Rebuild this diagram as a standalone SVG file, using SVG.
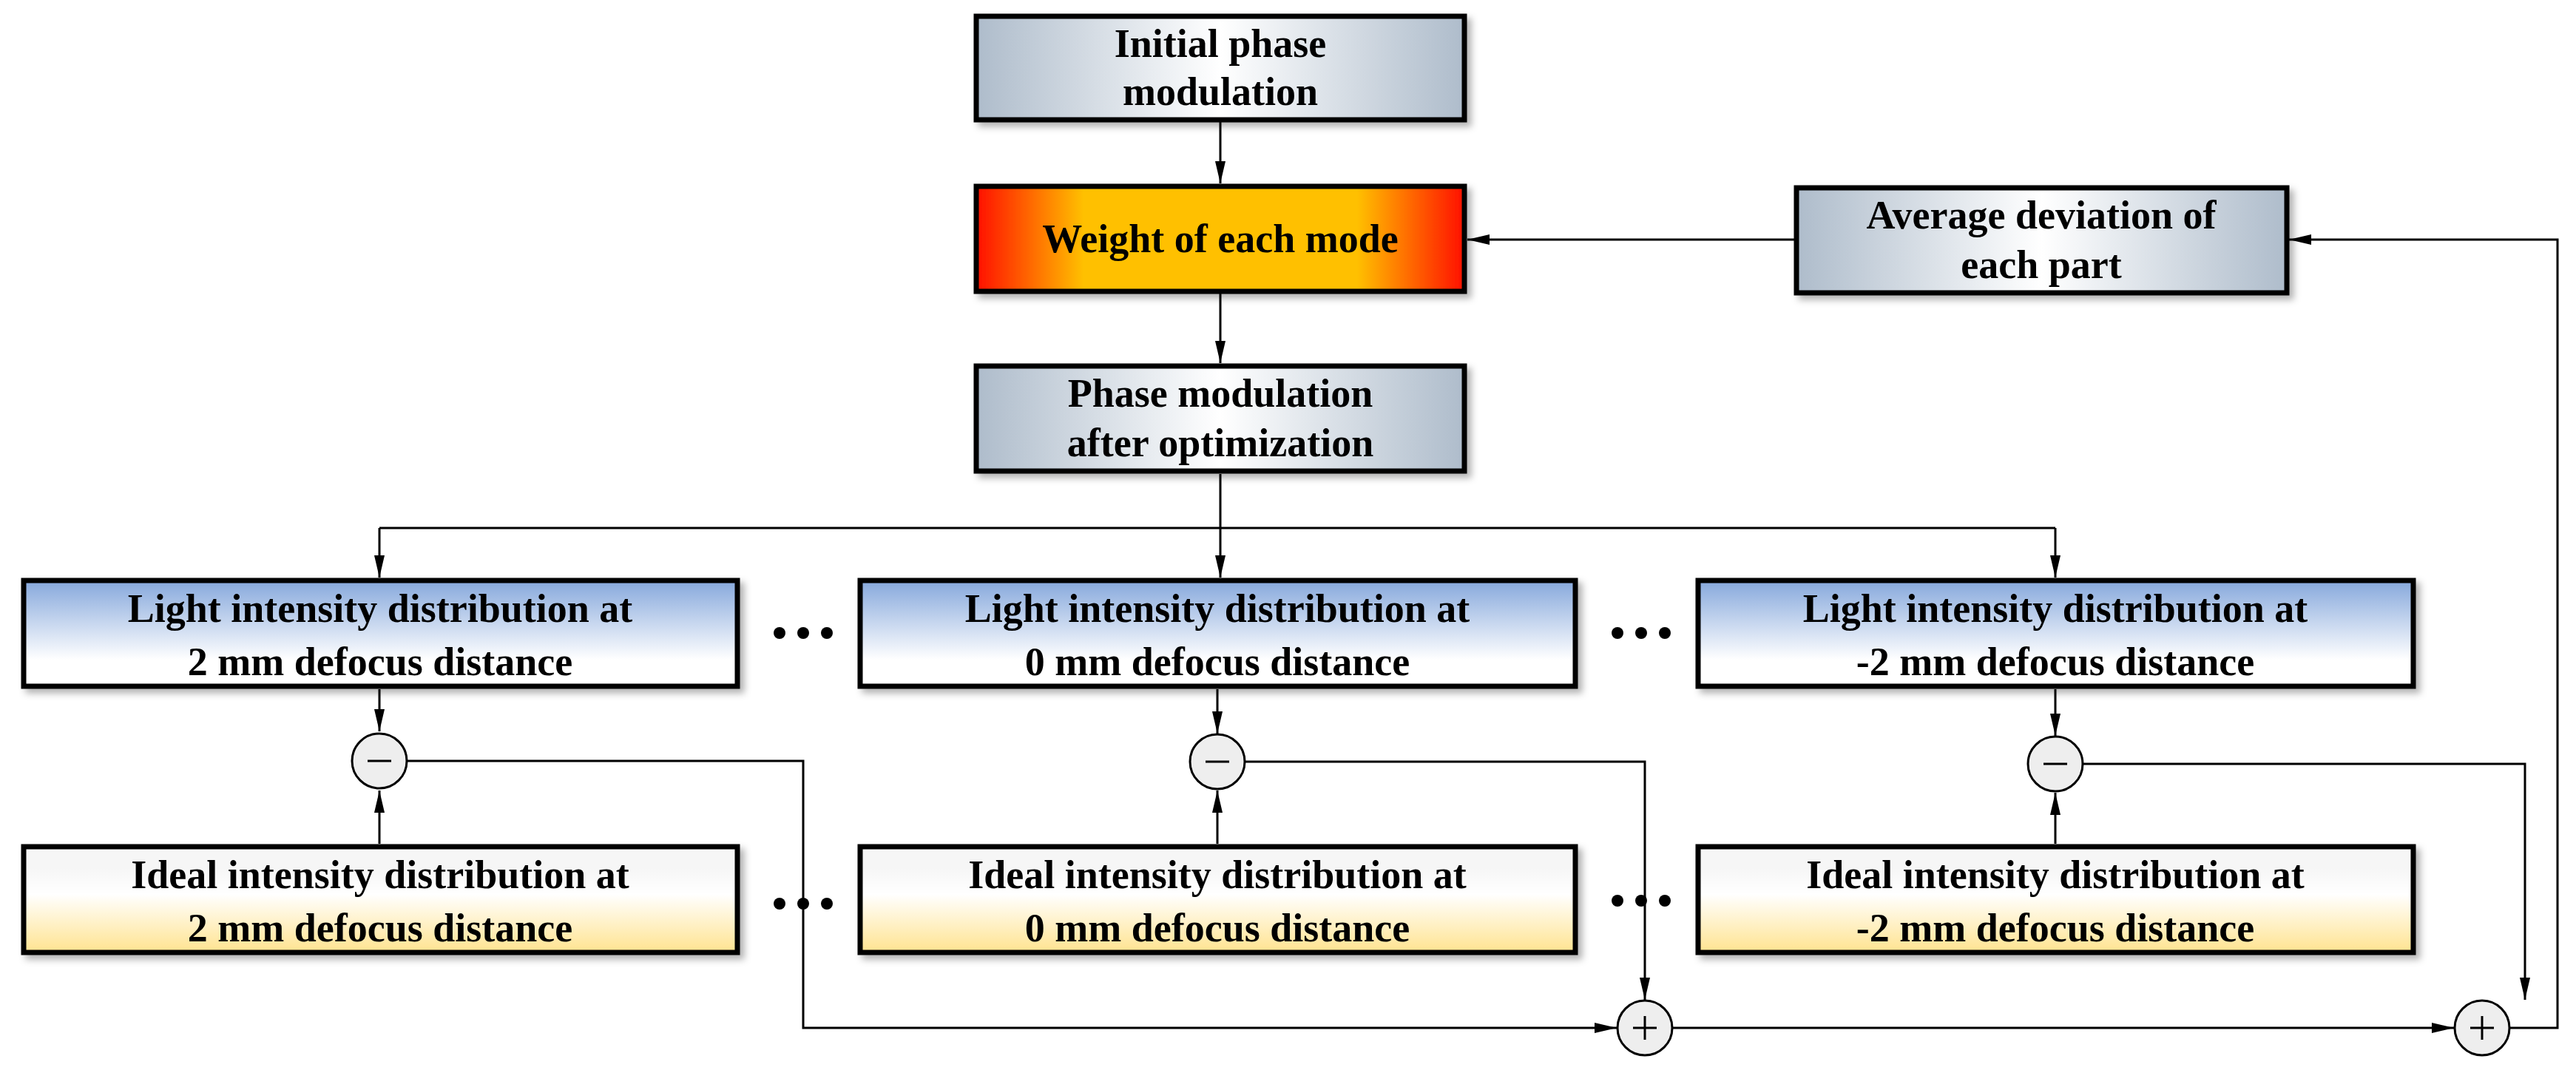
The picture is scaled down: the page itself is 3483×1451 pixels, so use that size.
<svg xmlns="http://www.w3.org/2000/svg" width="3483" height="1451" viewBox="0 0 3483 1451">
<style>
.b{stroke:#000;stroke-width:7}
.t{font-family:"Liberation Serif",serif;font-weight:bold;font-size:54px;text-anchor:middle;fill:#000}
.c{fill:none;stroke:#000;stroke-width:3}
.o{fill:#eee;stroke:#000;stroke-width:3}
.d{font-family:"Liberation Serif",serif;font-weight:bold;font-size:60px;fill:#000}
</style>
<defs>
<linearGradient id="g" x1="0" x2="1" y1="0" y2="0"><stop offset="0" stop-color="#aebccb"/><stop offset="0.5" stop-color="#fff"/><stop offset="1" stop-color="#aebccb"/></linearGradient>
<linearGradient id="w" x1="0" x2="1"><stop offset="0" stop-color="#ff1000"/><stop offset="0.22" stop-color="#ffc000"/><stop offset="0.78" stop-color="#ffc000"/><stop offset="1" stop-color="#ff1000"/></linearGradient>
<linearGradient id="l" x1="0" x2="0" y1="0" y2="1"><stop offset="0" stop-color="#86a8dc"/><stop offset="0.75" stop-color="#fff"/></linearGradient>
<linearGradient id="i" x1="0" x2="0" y1="0" y2="1"><stop offset="0.2" stop-color="#f6f6f6"/><stop offset="0.45" stop-color="#fff"/><stop offset="1" stop-color="#ffe38f"/></linearGradient>
<filter id="s" x="-5%" y="-10%" width="112%" height="125%"><feDropShadow dx="6" dy="6" stdDeviation="5" flood-opacity="0.3"/></filter>
<marker id="a" viewBox="0 0 10 10" refX="10" refY="5" markerWidth="10" markerHeight="10" markerUnits="userSpaceOnUse" orient="auto"><path d="M0,0 L10,5 L0,10 z"/></marker>
<marker id="A" viewBox="0 0 30 14" refX="30" refY="7" markerWidth="30" markerHeight="14" markerUnits="userSpaceOnUse" orient="auto"><path d="M0,0 L30,7 L0,14 z"/></marker>
</defs>
<g id="connectors" class="c">
<path d="M1650 164 V248" marker-end="url(#A)"/>
<path d="M1650 397 V491" marker-end="url(#A)"/>
<path d="M2429 324 H1984" marker-end="url(#A)"/>
<path d="M1650 641 V714 M513 714 H2779"/>
<path d="M513 714 V781" marker-end="url(#A)"/>
<path d="M1650 714 V781" marker-end="url(#A)"/>
<path d="M2779 714 V781" marker-end="url(#A)"/>
<path d="M513 932 V989" marker-end="url(#A)"/>
<path d="M1646 932 V992" marker-end="url(#A)"/>
<path d="M2779 932 V995" marker-end="url(#A)"/>
<path d="M513 1141 V1069" marker-end="url(#A)"/>
<path d="M1646 1141 V1069" marker-end="url(#A)"/>
<path d="M2779 1141 V1072" marker-end="url(#A)"/>
<path d="M550 1029 H1086 V1390 H2186" marker-end="url(#A)"/>
<path d="M1683 1030 H2224 V1352" marker-end="url(#A)"/>
<path d="M2816 1033 H3414 V1352" marker-end="url(#A)"/>
<path d="M2261 1390 H3318" marker-end="url(#A)"/>
<path d="M3393 1390 H3458 V324 H3095" marker-end="url(#A)"/>
</g>
<g id="n1"><rect x="1320" y="22" width="660" height="140" fill="url(#g)" class="b" filter="url(#s)"/><text class="t" x="1650" y="77">Initial phase</text><text class="t" x="1650" y="142">modulation</text></g>
<g id="n2"><rect x="1320" y="252" width="660" height="142" fill="url(#w)" class="b" filter="url(#s)"/><text class="t" x="1650" y="341">Weight of each mode</text></g>
<g id="n3"><rect x="2429" y="254" width="663" height="142" fill="url(#g)" class="b" filter="url(#s)"/><text class="t" x="2760" y="309">Average deviation of</text><text class="t" x="2760" y="376">each part</text></g>
<g id="n4"><rect x="1320" y="495" width="660" height="142" fill="url(#g)" class="b" filter="url(#s)"/><text class="t" x="1650" y="550">Phase modulation</text><text class="t" x="1650" y="617">after optimization</text></g>
<g id="l1"><rect x="32" y="785" width="965" height="143" fill="url(#l)" class="b" filter="url(#s)"/><text class="t" x="514" y="841">Light intensity distribution at</text><text class="t" x="514" y="913">2 mm defocus distance</text></g>
<g id="l2"><rect x="1163" y="785" width="967" height="143" fill="url(#l)" class="b" filter="url(#s)"/><text class="t" x="1646" y="841">Light intensity distribution at</text><text class="t" x="1646" y="913">0 mm defocus distance</text></g>
<g id="l3"><rect x="2296" y="785" width="967" height="143" fill="url(#l)" class="b" filter="url(#s)"/><text class="t" x="2779" y="841">Light intensity distribution at</text><text class="t" x="2779" y="913">-2 mm defocus distance</text></g>
<g id="i1"><rect x="32" y="1145" width="965" height="143" fill="url(#i)" class="b" filter="url(#s)"/><text class="t" x="514" y="1201">Ideal intensity distribution at</text><text class="t" x="514" y="1273">2 mm defocus distance</text></g>
<g id="i2"><rect x="1163" y="1145" width="967" height="143" fill="url(#i)" class="b" filter="url(#s)"/><text class="t" x="1646" y="1201">Ideal intensity distribution at</text><text class="t" x="1646" y="1273">0 mm defocus distance</text></g>
<g id="i3"><rect x="2296" y="1145" width="967" height="143" fill="url(#i)" class="b" filter="url(#s)"/><text class="t" x="2779" y="1201">Ideal intensity distribution at</text><text class="t" x="2779" y="1273">-2 mm defocus distance</text></g>
<g id="m1"><circle cx="513" cy="1029" r="37" class="o"/><path d="M497 1029 H529" class="c" stroke-width="4"/></g>
<g id="m2"><circle cx="1646" cy="1030" r="37" class="o"/><path d="M1630 1030 H1662" class="c" stroke-width="4"/></g>
<g id="m3"><circle cx="2779" cy="1033" r="37" class="o"/><path d="M2763 1033 H2795" class="c" stroke-width="4"/></g>
<g id="p1"><circle cx="2224" cy="1390" r="37" class="o"/><path d="M2208 1390 H2240 M2224 1374 V1406" class="c"/></g>
<g id="p2"><circle cx="3356" cy="1390" r="37" class="o"/><path d="M3340 1390 H3372 M3356 1374 V1406" class="c"/></g>
<g id="dots" fill="#000">
<circle cx="1054" cy="856" r="8"/><circle cx="1086" cy="856" r="8"/><circle cx="1118" cy="856" r="8"/>
<circle cx="2187" cy="856" r="8"/><circle cx="2219" cy="856" r="8"/><circle cx="2251" cy="856" r="8"/>
<circle cx="1054" cy="1222" r="8"/><circle cx="1086" cy="1222" r="8"/><circle cx="1118" cy="1222" r="8"/>
<circle cx="2187" cy="1218" r="8"/><circle cx="2219" cy="1218" r="8"/><circle cx="2251" cy="1218" r="8"/>
</g>
</svg>
